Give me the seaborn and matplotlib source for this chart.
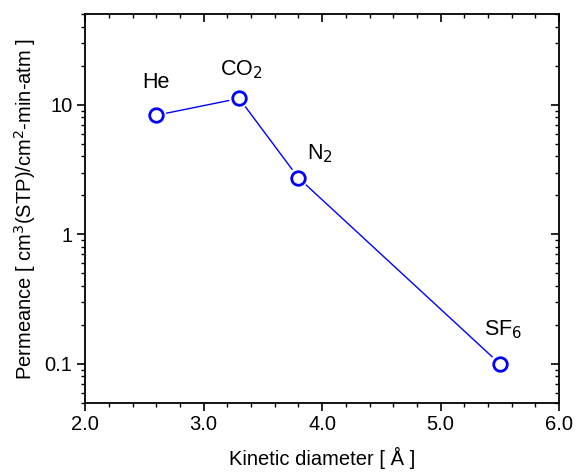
import matplotlib
matplotlib.use("Agg")
import matplotlib.pyplot as plt
import seaborn as sns
import pandas as pd
from matplotlib.ticker import FixedLocator, LogLocator, NullFormatter

gases = ["He", "CO$_2$", "N$_2$", "SF$_6$"]
diameter = [2.6, 3.3, 3.8, 5.5]
permeance = [8.3, 11.2, 2.73, 0.10]
label_offsets = [(0, 33), (2, 29), (22, 24), (3, 34)]

df = pd.DataFrame({"diameter": diameter, "permeance": permeance, "gas": gases})

sns.set_style("white")
plt.rcParams["font.family"] = ["Liberation Sans", "DejaVu Sans"]
plt.rcParams["text.color"] = "black"
plt.rcParams["axes.labelcolor"] = "black"
plt.rcParams["xtick.color"] = "black"
plt.rcParams["ytick.color"] = "black"

fig = plt.figure(figsize=(5.83, 4.74), dpi=100)
ax = fig.add_axes([0.146, 0.150, 0.813, 0.820])

sns.lineplot(data=df, x="diameter", y="permeance", color="blue", lw=1, ax=ax, sort=False)
# white halo so the line stops short of the circles
sns.scatterplot(data=df, x="diameter", y="permeance", s=210, color="white",
                edgecolor="none", ax=ax, zorder=3)
sns.scatterplot(data=df, x="diameter", y="permeance", s=95, facecolor="white",
                edgecolor="blue", linewidth=2, ax=ax, zorder=4)

for g, xv, yv, off in zip(gases, diameter, permeance, label_offsets):
    ax.annotate(g, (xv, yv), xytext=off, textcoords="offset pixels",
                ha="center", va="center", fontsize=15.5)

ax.set_yscale("log")
ax.set_xlim(2.0, 6.0)
ax.set_ylim(0.05, 50)
ax.set_xticks([2, 3, 4, 5, 6])
ax.set_xticklabels(["2.0", "3.0", "4.0", "5.0", "6.0"])
ax.xaxis.set_minor_locator(FixedLocator([2 + 0.2 * i for i in range(21)]))
ax.set_yticks([0.1, 1, 10])
ax.set_yticklabels(["0.1", "1", "10"])
ax.yaxis.set_minor_locator(LogLocator(base=10, subs=range(2, 10)))
ax.yaxis.set_minor_formatter(NullFormatter())

ax.tick_params(which="major", direction="out", length=6, width=1.2, labelsize=14.5,
               bottom=True, left=True, pad=3)
ax.tick_params(which="minor", direction="out", length=3, width=1, bottom=True, left=True)

ax.set_xlabel("Kinetic diameter [ Å ]", fontsize=14.5, labelpad=9)
ax.set_ylabel("Permeance [ cm$^3$(STP)/cm$^2$-min-atm ]", fontsize=14.5, labelpad=5)

for sp in ax.spines.values():
    sp.set_visible(True)
    sp.set_color("black")
    sp.set_linewidth(1.3)

# mirrored inward ticks on top and right
axt = ax.twiny()
axt.set_xlim(ax.get_xlim())
axt.set_xticks([2, 3, 4, 5, 6])
axt.xaxis.set_minor_locator(FixedLocator([2 + 0.2 * i for i in range(21)]))
axt.tick_params(which="major", direction="in", length=6, width=1.2, labeltop=False)
axt.tick_params(which="minor", direction="in", length=3, width=1)

axr = ax.twinx()
axr.set_yscale("log")
axr.set_ylim(ax.get_ylim())
axr.set_yticks([0.1, 1, 10])
axr.yaxis.set_minor_locator(LogLocator(base=10, subs=range(2, 10)))
axr.yaxis.set_minor_formatter(NullFormatter())
axr.tick_params(which="major", direction="in", length=6, width=1.2, labelright=False)
axr.tick_params(which="minor", direction="in", length=3, width=1)
for a in (axt, axr):
    a.grid(False)
    for sp in a.spines.values():
        sp.set_visible(False)

fig.savefig("out.png", dpi=100)
